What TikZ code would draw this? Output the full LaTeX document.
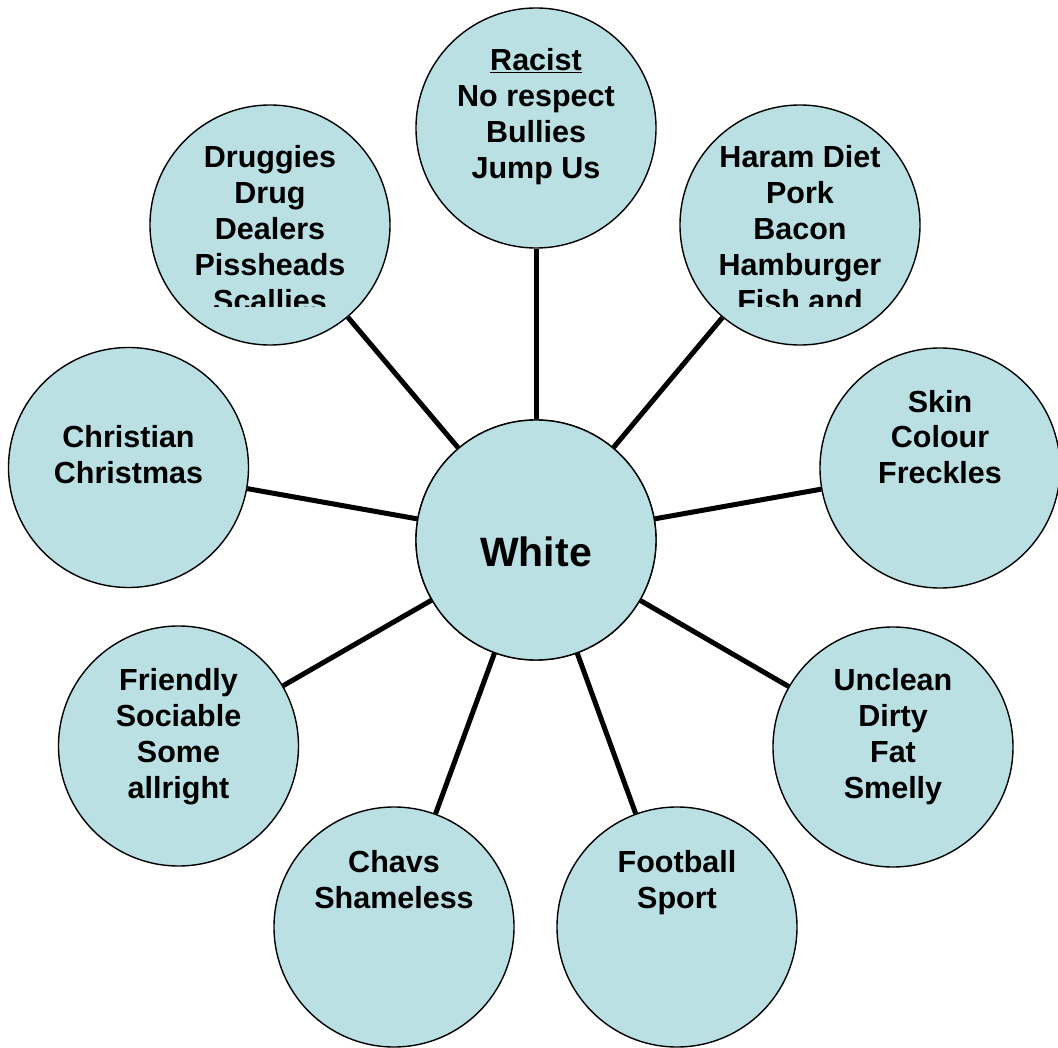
\documentclass[tikz,border=0pt]{standalone}
\usepackage{fontspec}
\setmainfont{Liberation Sans}
\definecolor{bub}{HTML}{BAE0E4}
\begin{document}
\begin{tikzpicture}[x=1pt,y=-1pt,
  bubble/.style={circle,draw=black,line width=1.4pt,fill=bub,minimum size=240pt,inner sep=0pt},
  conn/.style={line width=5pt,line cap=butt},
  txt/.style={anchor=base,align=center,inner sep=0pt,font=\bfseries\fontsize{30.5}{36}\selectfont}]
\useasboundingbox (0,0) rectangle (1058,1048);
\node[bubble] (w) at (536,540) {};
\node[bubble] (n1) at (536,128) {};
\node[bubble] (n2) at (270,225) {};
\node[bubble] (n3) at (800,225) {};
\node[bubble] (n4) at (128.5,467.5) {};
\node[bubble] (n5) at (940,468) {};
\node[bubble] (n6) at (178.5,746) {};
\node[bubble] (n7) at (893,747) {};
\node[bubble] (n8) at (394,927) {};
\node[bubble] (n9) at (677,927) {};
\foreach \i in {1,...,9}{\draw[conn] (w) -- (n\i);}
\node[bubble] at (w) {};
\node[txt,font=\bfseries\fontsize{41}{48}\selectfont] (tw) at (536,566.5) {White};
\node[txt] (t1) at (536,178.7) {\underline{Racist}\\No respect\\Bullies\\Jump Us};
\begin{scope}
\clip (140,100) rectangle (400,307);
\node[txt] (t2) at (270,312) {Druggies\\Drug\\Dealers\\Pissheads\\Scallies};
\end{scope}
\begin{scope}
\clip (670,100) rectangle (930,307);
\node[txt] (t3) at (800,312) {Haram Diet\\Pork\\Bacon\\Hamburger\\Fish and};
\end{scope}
\node[txt] (t4) at (128.5,484) {Christian\\Christmas};
\node[txt] (t5) at (940,484) {Skin\\Colour\\Freckles};
\node[txt] (t6) at (178.5,798) {Friendly\\Sociable\\Some\\allright};
\node[txt] (t7) at (893,798) {Unclean\\Dirty\\Fat\\Smelly};
\node[txt] (t8) at (394,908) {Chavs\\Shameless};
\node[txt] (t9) at (677,908) {Football\\Sport};
\end{tikzpicture}
\end{document}
